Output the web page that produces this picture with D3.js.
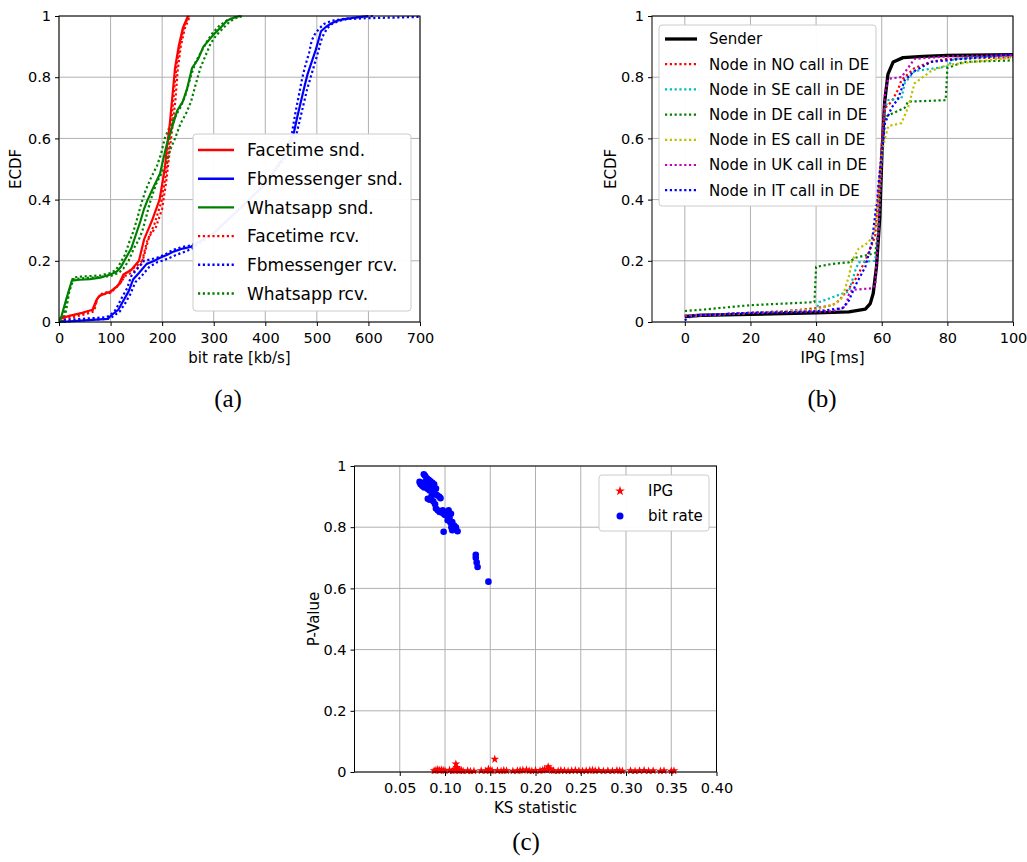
<!DOCTYPE html>
<html><head><meta charset="utf-8">
<script src="https://cdn.jsdelivr.net/npm/d3@7"></script>
<style>body{margin:0;background:#fff}svg{display:block}</style>
</head><body>
<script>
// ---------- Panel (a) data : bit rate ECDF ----------
const facetimeSndX = [0,20,45,65,72,78,100,115,125,140,155,165,180,195,205,210,215,220,225,232,240,250];
const facetimeSndY = [0.01,0.02,0.03,0.04,0.07,0.085,0.1,0.12,0.155,0.17,0.2,0.27,0.33,0.4,0.5,0.58,0.65,0.74,0.83,0.9,0.96,1.0];
const facetimeRcv1X = [0,25,50,68,74,82,100,118,128,145,160,170,185,198,207,213,218,223,228,235,243,252];
const facetimeRcv1Y = [0.005,0.015,0.025,0.035,0.075,0.09,0.095,0.125,0.15,0.165,0.19,0.26,0.32,0.39,0.48,0.57,0.66,0.75,0.84,0.91,0.97,1.0];
const facetimeRcv2X = [0,22,48,66,76,85,102,120,130,148,162,175,188,200,208,214,220,226,230,236,244,254];
const facetimeRcv2Y = [0.01,0.02,0.03,0.04,0.08,0.095,0.1,0.13,0.16,0.18,0.2,0.28,0.31,0.37,0.46,0.55,0.64,0.73,0.82,0.9,0.96,1.0];

const fbSndX = [0,50,95,100,115,125,135,144,155,170,185,196,210,222,240,255,300,350,400,440,455,462,469,476,482,490,498,503,508,518,527,540,553,575,600];
const fbSndY = [0,0.005,0.01,0.02,0.04,0.07,0.1,0.14,0.16,0.19,0.2,0.21,0.22,0.23,0.24,0.245,0.29,0.37,0.45,0.55,0.615,0.67,0.72,0.77,0.81,0.85,0.89,0.92,0.95,0.965,0.975,0.985,0.99,0.995,1.0];
const fbRcv1X = [0,40,88,98,110,122,132,140,150,165,178,190,205,220,238,256,300,350,400,440,452,458,465,472,478,485,490,496,505,515,530,550,575,610];
const fbRcv1Y = [0.005,0.01,0.015,0.02,0.04,0.08,0.11,0.15,0.17,0.2,0.205,0.21,0.22,0.235,0.245,0.25,0.29,0.37,0.45,0.55,0.62,0.68,0.74,0.8,0.84,0.88,0.92,0.94,0.96,0.975,0.985,0.99,0.995,1.0];
const fbRcv2X = [0,45,92,102,118,128,138,148,160,175,190,200,215,228,245,258,300,350,400,445,460,467,474,481,488,495,502,510,520,530,545,560,600,650,700];
const fbRcv2Y = [0,0.005,0.01,0.015,0.035,0.06,0.09,0.13,0.15,0.18,0.195,0.2,0.21,0.22,0.23,0.24,0.29,0.37,0.45,0.55,0.61,0.66,0.71,0.76,0.8,0.84,0.88,0.93,0.96,0.975,0.985,0.99,0.993,0.995,0.997];

const waSndX = [0,5,15,25,40,60,80,100,112,120,130,140,150,158,165,172,183,196,202,209,220,229,240,248,258,270,280,290,300,315,326,340,352];
const waSndY = [0,0.02,0.08,0.135,0.138,0.14,0.145,0.155,0.165,0.18,0.21,0.24,0.29,0.33,0.37,0.4,0.44,0.485,0.53,0.58,0.64,0.69,0.72,0.76,0.83,0.86,0.9,0.92,0.94,0.965,0.985,0.995,1.0];
const waRcv1X = [5,10,18,27,40,60,80,100,110,118,128,136,145,152,160,168,178,190,198,205,215,225,235,245,255,265,278,288,298,312,325,338,350];
const waRcv1Y = [0,0.03,0.09,0.145,0.148,0.15,0.152,0.16,0.17,0.19,0.22,0.26,0.3,0.34,0.39,0.43,0.47,0.51,0.55,0.6,0.64,0.67,0.7,0.74,0.8,0.85,0.89,0.92,0.945,0.97,0.985,0.995,1.0];
const waRcv2X = [8,14,20,28,45,65,85,100,115,125,135,145,155,162,170,178,188,200,208,215,225,236,246,256,264,274,284,294,304,318,330,342,356];
const waRcv2Y = [0,0.04,0.1,0.14,0.143,0.145,0.148,0.15,0.16,0.175,0.2,0.24,0.27,0.3,0.35,0.4,0.45,0.49,0.52,0.56,0.6,0.65,0.68,0.72,0.77,0.83,0.87,0.91,0.935,0.96,0.98,0.993,1.0];

const panelALegend = ["Facetime snd.","Fbmessenger snd.","Whatsapp snd.","Facetime rcv.","Fbmessenger rcv.","Whatsapp rcv."];
const panelAXTicks = [0,100,200,300,400,500,600,700];
const ecdfTicks = [0,0.2,0.4,0.6,0.8,1];

// ---------- Panel (b) data : IPG ECDF ----------
const senderX = [0,5,20,40,50,55,56.5,57.4,58.4,59.4,60.1,60.9,61.9,63.5,66.5,72.6,80,100];
const senderY = [0.018,0.022,0.025,0.03,0.033,0.042,0.06,0.093,0.18,0.34,0.56,0.72,0.81,0.85,0.864,0.868,0.871,0.874];
const noX = [0,10,20,30,40,45,47,50,52,55,58,59.5,60.5,61,63,65,66,68,70,75,80,100];
const noY = [0.02,0.025,0.03,0.035,0.045,0.055,0.07,0.11,0.14,0.2,0.28,0.5,0.65,0.7,0.72,0.76,0.79,0.81,0.83,0.85,0.86,0.865];
const seX = [0,10,20,30,40,41,46,50,52,53,58,59,60,61,62,66,67,70,80,82,90,100];
const seY = [0.02,0.025,0.03,0.035,0.04,0.065,0.085,0.1,0.17,0.195,0.2,0.3,0.55,0.7,0.725,0.73,0.78,0.82,0.835,0.86,0.865,0.87];
const deX = [0,5,10,15,20,30,39.5,40,45,50,52,58,59,60,61,65,67,68,79.5,80,85,100];
const deY = [0.036,0.04,0.045,0.05,0.055,0.06,0.065,0.18,0.19,0.195,0.21,0.225,0.3,0.55,0.67,0.69,0.7,0.72,0.725,0.83,0.85,0.855];
const esX = [0,10,20,30,40,46,48,50,51,53,56,58,59,60,61,62,66,68,70,75,80,100];
const esY = [0.02,0.025,0.03,0.035,0.04,0.06,0.08,0.15,0.2,0.24,0.26,0.3,0.4,0.55,0.6,0.64,0.65,0.7,0.78,0.82,0.84,0.865];
const ukX = [0,10,20,30,40,45,49,50,51,57,58,59,60,61,62,66,68,70,80,100];
const ukY = [0.02,0.025,0.03,0.032,0.034,0.035,0.05,0.09,0.105,0.11,0.12,0.3,0.55,0.75,0.795,0.8,0.83,0.86,0.868,0.872];
const itX = [0,2,10,20,30,40,48,50,52,55,57,58,59,60,61,63,65,67,70,75,100];
const itY = [0.005,0.02,0.025,0.03,0.032,0.035,0.045,0.07,0.12,0.18,0.26,0.35,0.45,0.55,0.65,0.7,0.73,0.79,0.82,0.85,0.875];
const panelBLegend = ["Sender","Node in NO call in DE","Node in SE call in DE","Node in DE call in DE","Node in ES call in DE","Node in UK call in DE","Node in IT call in DE"];
const panelBXTicks = [0,20,40,60,80,100];

// ---------- Panel (c) data : KS statistic vs P-value ----------
const bitrateKS = [0.0766,0.078,0.08,0.082,0.084,0.086,0.0719,0.073,0.075,0.077,0.079,0.081,0.083,0.085,0.087,0.088,0.09,0.091,0.0935,0.095,0.081,0.083,0.085,0.087,0.089,0.09,0.092,0.094,0.0975,0.098,0.1,0.102,0.104,0.1066,0.103,0.105,0.106,0.108,0.107,0.108,0.1139,0.0985,0.11,0.112,0.076,0.079,0.082,0.085,0.088,0.134,0.134,0.135,0.136,0.148];
const bitrateP = [0.973,0.968,0.96,0.955,0.95,0.945,0.948,0.94,0.935,0.93,0.931,0.925,0.92,0.918,0.93,0.915,0.926,0.905,0.9,0.895,0.893,0.89,0.9,0.885,0.875,0.861,0.855,0.85,0.855,0.845,0.84,0.85,0.855,0.844,0.823,0.83,0.815,0.817,0.8,0.79,0.787,0.785,0.805,0.8,0.945,0.95,0.94,0.935,0.94,0.71,0.70,0.685,0.67,0.622];
const ipgKS = [0.088,0.09,0.092,0.094,0.096,0.098,0.1,0.105,0.108,0.11,0.111,0.112,0.113,0.114,0.115,0.116,0.118,0.12,0.125,0.128,0.132,0.14,0.145,0.148,0.15,0.152,0.155,0.158,0.162,0.165,0.168,0.175,0.18,0.183,0.186,0.19,0.193,0.196,0.2,0.205,0.208,0.21,0.212,0.214,0.216,0.218,0.22,0.225,0.228,0.232,0.236,0.24,0.244,0.248,0.252,0.256,0.26,0.263,0.266,0.27,0.275,0.28,0.285,0.29,0.293,0.296,0.305,0.31,0.315,0.32,0.325,0.33,0.338,0.342,0.35,0.353];
const ipgP = [0.004,0.006,0.008,0.005,0.007,0.005,0.004,0.006,0.003,0.005,0.008,0.026,0.015,0.01,0.006,0.004,0.005,0.003,0.004,0.002,0.003,0.004,0.003,0.009,0.005,0.004,0.042,0.004,0.003,0.005,0.004,0.003,0.004,0.005,0.006,0.007,0.004,0.003,0.005,0.004,0.006,0.008,0.007,0.017,0.01,0.005,0.004,0.003,0.005,0.004,0.003,0.004,0.005,0.004,0.003,0.004,0.005,0.006,0.004,0.005,0.003,0.004,0.003,0.005,0.004,0.003,0.004,0.003,0.004,0.005,0.003,0.004,0.003,0.004,0.003,0.004];
const panelCXTicks = [0.05,0.1,0.15,0.2,0.25,0.3,0.35,0.4];
const panelCLegend = ["IPG","bit rate"];

// ---------- drawing ----------
const FONT = "'DejaVu Sans', sans-serif";
const svg = d3.select("body").append("svg").attr("width",1027).attr("height",862);

function zip(xs, ys){ return xs.map((x,i)=>[x, ys[i]]); }
function fmtY(d){ return d===0?"0":d===1?"1":d3.format(".1f")(d); }

function panel(id, box, xDom, yDom, xTicks, yTicks, xFmt, xLabel, yLabel, yLabelX){
  const x = d3.scaleLinear().domain(xDom).range([box.l, box.r]);
  const y = d3.scaleLinear().domain(yDom).range([box.b, box.t]);
  const g = svg.append("g");
  g.append("clipPath").attr("id", id).append("rect")
    .attr("x", box.l).attr("y", box.t-2).attr("width", box.r-box.l).attr("height", box.b-box.t+4);
  g.append("g").selectAll("line").data(xTicks).join("line")
    .attr("x1", d=>x(d)).attr("x2", d=>x(d)).attr("y1", box.t).attr("y2", box.b)
    .attr("stroke", "#b0b0b0").attr("stroke-width", 1);
  g.append("g").selectAll("line").data(yTicks).join("line")
    .attr("y1", d=>y(d)).attr("y2", d=>y(d)).attr("x1", box.l).attr("x2", box.r)
    .attr("stroke", "#b0b0b0").attr("stroke-width", 1);
  const plot = g.append("g").attr("clip-path", `url(#${id})`);
  const ax = g.append("g").attr("transform", `translate(0,${box.b})`)
    .call(d3.axisBottom(x).tickValues(xTicks).tickFormat(xFmt).tickSize(4).tickPadding(4));
  const ay = g.append("g").attr("transform", `translate(${box.l},0)`)
    .call(d3.axisLeft(y).tickValues(yTicks).tickFormat(fmtY).tickSize(4).tickPadding(4));
  [ax, ay].forEach(a=>{
    a.select(".domain").remove();
    a.selectAll("text").attr("font-family", FONT).attr("font-size", 14.5).attr("fill", "#000");
    a.selectAll("line").attr("stroke", "#000");
  });
  ax.selectAll("text").attr("dy", "0.9em");
  g.append("rect").attr("x", box.l).attr("y", box.t).attr("width", box.r-box.l).attr("height", box.b-box.t)
    .attr("fill", "none").attr("stroke", "#000").attr("stroke-width", 1);
  g.append("text").attr("x", (box.l+box.r)/2).attr("y", box.b+41).attr("text-anchor", "middle")
    .attr("font-family", FONT).attr("font-size", 15).text(xLabel);
  g.append("text").attr("transform", `translate(${yLabelX},${(box.t+box.b)/2}) rotate(-90)`)
    .attr("text-anchor", "middle").attr("font-family", FONT).attr("font-size", 15).text(yLabel);
  return {x, y, g, plot};
}

function drawLine(p, pts, color, dotted, width){
  const line = d3.line().x(d=>p.x(d[0])).y(d=>p.y(d[1]));
  p.plot.append("path").datum(pts).attr("d", line).attr("fill", "none")
    .attr("stroke", color).attr("stroke-width", width || 2.2)
    .attr("stroke-dasharray", dotted ? "2.2,2.6" : null)
    .attr("stroke-linejoin", "round");
}

function legendBox(g, x0, y0, x1, y1){
  g.append("rect").attr("x", x0).attr("y", y0).attr("width", x1-x0).attr("height", y1-y0)
    .attr("rx", 3).attr("fill", "#fff").attr("fill-opacity", 0.95).attr("stroke", "#cccccc").attr("stroke-width", 1);
}

// Panel (a)
const pa = panel("clipA", {l:59, r:420, t:16, b:322}, [0,700], [0,1], panelAXTicks, ecdfTicks,
  d=>String(d), "bit rate [kb/s]", "ECDF", 21);
const colA = ["#ff0000", "#0000ff", "#008000"];
drawLine(pa, zip(facetimeRcv1X, facetimeRcv1Y), colA[0], true);
drawLine(pa, zip(facetimeRcv2X, facetimeRcv2Y), colA[0], true);
drawLine(pa, zip(fbRcv1X, fbRcv1Y), colA[1], true);
drawLine(pa, zip(fbRcv2X, fbRcv2Y), colA[1], true);
drawLine(pa, zip(waRcv1X, waRcv1Y), colA[2], true);
drawLine(pa, zip(waRcv2X, waRcv2Y), colA[2], true);
drawLine(pa, zip(facetimeSndX, facetimeSndY), colA[0], false);
drawLine(pa, zip(fbSndX, fbSndY), colA[1], false);
drawLine(pa, zip(waSndX, waSndY), colA[2], false);
legendBox(pa.g, 193, 134, 411, 311);
panelALegend.forEach((t,i)=>{
  const yy = 150 + i*28.7;
  pa.g.append("line").attr("x1",198).attr("x2",234).attr("y1",yy).attr("y2",yy)
    .attr("stroke", colA[i%3]).attr("stroke-width", 2.4).attr("stroke-dasharray", i>=3 ? "2.2,2.6" : null);
  pa.g.append("text").attr("x", 247).attr("y", yy).attr("dy", "0.36em")
    .attr("font-family", FONT).attr("font-size", 17).text(t);
});

// Panel (b)
const pb = panel("clipB", {l:652, r:1013, t:16, b:322}, [-10,100], [0,1], panelBXTicks, ecdfTicks,
  d=>String(d), "IPG [ms]", "ECDF", 616);
const seriesB = [[noX,noY,"#ff0000"],[seX,seY,"#00bfbf"],[deX,deY,"#008000"],[esX,esY,"#bfbf00"],[ukX,ukY,"#bf00bf"],[itX,itY,"#0000ff"]];
drawLine(pb, zip(senderX, senderY), "#000", false, 3.3);
seriesB.forEach(s=>drawLine(pb, zip(s[0], s[1]), s[2], true));
legendBox(pb.g, 659, 25, 876, 206);
const colB = ["#000","#ff0000","#00bfbf","#008000","#bfbf00","#bf00bf","#0000ff"];
panelBLegend.forEach((t,i)=>{
  const yy = 39 + i*25.2;
  pb.g.append("line").attr("x1",665).attr("x2",697).attr("y1",yy).attr("y2",yy)
    .attr("stroke", colB[i]).attr("stroke-width", i===0 ? 3.3 : 2.2).attr("stroke-dasharray", i>0 ? "2.2,2.6" : null);
  pb.g.append("text").attr("x", 709).attr("y", yy).attr("dy", "0.36em")
    .attr("font-family", FONT).attr("font-size", 15).text(t);
});

// Panel (c)
const pc = panel("clipC", {l:354.5, r:716.5, t:466, b:772}, [0,0.4], [0,1], panelCXTicks, ecdfTicks,
  d=>d3.format(".2f")(d), "KS statistic", "P-Value", 319);
const star = d3.symbol().type(d3.symbolStar).size(24);
pc.plot.append("g").selectAll("path").data(zip(ipgKS, ipgP)).join("path")
  .attr("d", star).attr("transform", d=>`translate(${pc.x(d[0])},${pc.y(d[1])})`).attr("fill", "#ff0000");
pc.plot.append("g").selectAll("circle").data(zip(bitrateKS, bitrateP)).join("circle")
  .attr("cx", d=>pc.x(d[0])).attr("cy", d=>pc.y(d[1])).attr("r", 3.3).attr("fill", "#0000ff");
legendBox(pc.g, 599, 475, 709, 531);
pc.g.append("path").attr("d", d3.symbol().type(d3.symbolStar).size(30)).attr("transform","translate(620,491)").attr("fill","#ff0000");
pc.g.append("circle").attr("cx",620).attr("cy",516).attr("r",3.5).attr("fill","#0000ff");
panelCLegend.forEach((t,i)=>{
  pc.g.append("text").attr("x", 648).attr("y", 491 + i*24.5).attr("dy", "0.36em")
    .attr("font-family", FONT).attr("font-size", 15).text(t);
});

// captions
[["(a)",228,407],["(b)",822,407],["(c)",526,850]].forEach(c=>{
  svg.append("text").attr("x", c[1]).attr("y", c[2]).attr("text-anchor","middle")
    .attr("font-family","'Liberation Serif', 'Times New Roman', serif").attr("font-size", 25).text(c[0]);
});
</script>
</body></html>
